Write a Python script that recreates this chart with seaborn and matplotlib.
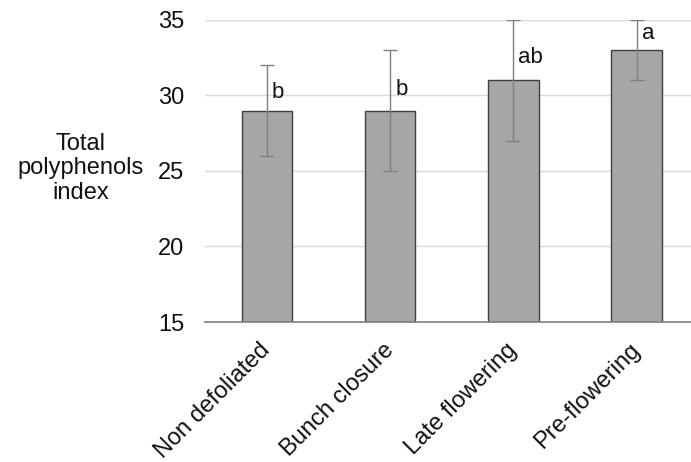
import matplotlib
matplotlib.use("Agg")
import matplotlib.pyplot as plt
import seaborn as sns
import pandas as pd

categories = ["Non defoliated", "Bunch closure", "Late flowering", "Pre-flowering"]
values = [29, 29, 31, 33]
errors = [3, 4, 4, 2]
letters = ["b", "b", "ab", "a"]
letter_y = [30.2, 30.4, 32.5, 34.1]

sns.set_theme(style="white")
plt.rcParams['font.family'] = ['Liberation Sans', 'DejaVu Sans']

df = pd.DataFrame({"cat": categories, "val": values})

fig = plt.figure(figsize=(6.91, 4.62), dpi=100)
ax = fig.add_axes([0.297, 0.303, 0.703, 0.654])

sns.barplot(data=df, x="cat", y="val", ax=ax, color="#a6a6a6",
            edgecolor="#404040", linewidth=1.0, width=0.41,
            saturation=1, errorbar=None, zorder=3)
ax.errorbar(range(len(categories)), values, yerr=errors, fmt="none",
            ecolor="#7f7f7f", elinewidth=1.0, capsize=5, capthick=1.0, zorder=4)

for i, (lt, ly) in enumerate(zip(letters, letter_y)):
    ax.text(i + 0.04, ly, lt, ha="left", va="center", fontsize=16, color="#111111", zorder=5)

ax.set_ylim(15, 35)
ax.set_xlim(-0.5, 3.44)
ax.set_yticks([15, 20, 25, 30, 35])
ax.yaxis.grid(True, color="#d9d9d9", linewidth=1.0, zorder=0)
ax.set_axisbelow(True)
for s in ["left", "right", "top"]:
    ax.spines[s].set_visible(False)
ax.spines["bottom"].set_color("#7f7f7f")
ax.spines["bottom"].set_linewidth(1.2)
ax.spines["bottom"].set_zorder(6)
ax.tick_params(axis="y", length=0, labelsize=17, pad=15, labelcolor="#111111")
ax.tick_params(axis="x", length=0, labelsize=17, pad=18, labelcolor="#111111")
plt.setp(ax.get_xticklabels(), rotation=45, ha="right", va="center", rotation_mode="anchor")
ax.set_xlabel("")
ax.set_ylabel("")
fig.text(0.117, 0.636, "Total\npolyphenols\nindex", ha="center", va="center",
         fontsize=17, color="#111111", linespacing=1.15)

fig.savefig("out.png", dpi=100)
